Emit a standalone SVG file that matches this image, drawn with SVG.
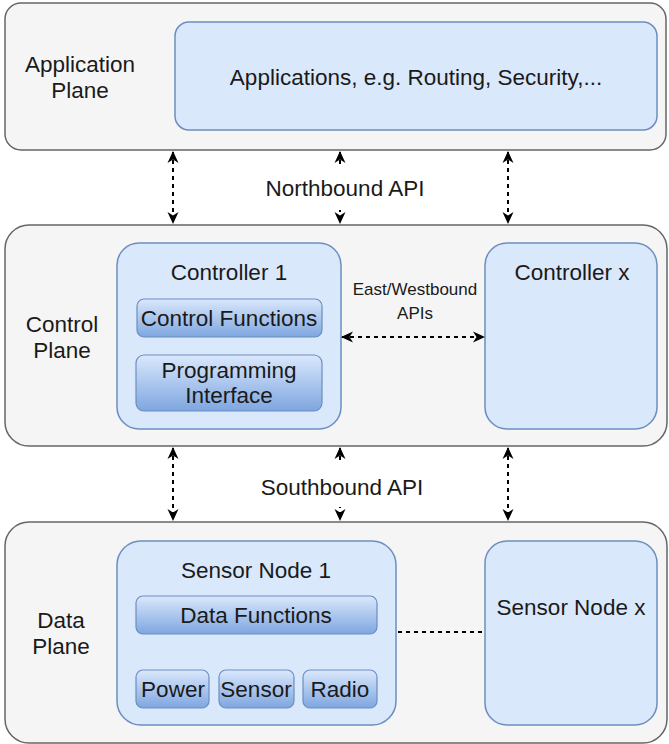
<svg xmlns="http://www.w3.org/2000/svg" width="669" height="744" viewBox="0 0 669 744">
  <style>
    .plane { fill: #f5f5f5; stroke: #666666; stroke-width: 1.5; }
    .box { fill: #dae8fc; stroke: #6c8ebf; stroke-width: 1.5; }
    .sub { fill: url(#subGrad); stroke: #6c8ebf; stroke-width: 1.2; }
    text { font-family: "Liberation Sans", Arial, sans-serif; font-size: 22.5px; fill: #1a1a1a; text-anchor: middle; }
    .small { font-size: 17px; }
    .link { fill: none; stroke: #000000; stroke-width: 2; stroke-dasharray: 4 4; }
    .label-bg { fill: #ffffff; }
  </style>
  <defs>
    <linearGradient id="subGrad" x1="0" y1="0" x2="0" y2="1">
      <stop offset="0" stop-color="#dae8fc"/>
      <stop offset="1" stop-color="#7ea6e0"/>
    </linearGradient>
    <marker id="head" viewBox="0 0 12 12" refX="11" refY="6" markerWidth="12" markerHeight="12" orient="auto-start-reverse" markerUnits="userSpaceOnUse">
      <path d="M0,0.5 L12,6 L0,11.5 L3.5,6 Z" fill="#000000"/>
    </marker>
  </defs>

  <!-- Application plane -->
  <g id="application-plane">
    <rect class="plane" x="5" y="3" width="661" height="147" rx="16"/>
    <text x="80" y="72">Application</text>
    <text x="80" y="98">Plane</text>
  </g>
  <g id="applications">
    <rect class="box" x="175" y="22" width="482" height="108" rx="14"/>
    <text x="416" y="85">Applications, e.g. Routing, Security,...</text>
  </g>

  <!-- Control plane -->
  <g id="control-plane">
    <rect class="plane" x="5" y="225" width="662" height="221" rx="24"/>
    <text x="62" y="332">Control</text>
    <text x="62" y="358">Plane</text>
  </g>
  <g id="controller-1">
    <rect class="box" x="117" y="243" width="224" height="186" rx="22"/>
    <text x="229" y="280">Controller 1</text>
  </g>
  <g id="control-functions">
    <rect class="sub" x="137" y="299" width="185" height="38" rx="7"/>
    <text x="229" y="326">Control Functions</text>
  </g>
  <g id="programming-interface">
    <rect class="sub" x="136" y="355" width="186" height="56" rx="8"/>
    <text x="229" y="378">Programming</text>
    <text x="229" y="403">Interface</text>
  </g>
  <g id="controller-x">
    <rect class="box" x="485" y="243" width="172" height="186" rx="22"/>
    <text x="572" y="280">Controller x</text>
  </g>

  <!-- Data plane -->
  <g id="data-plane">
    <rect class="plane" x="5" y="522" width="662" height="221" rx="24"/>
    <text x="61" y="628">Data</text>
    <text x="61" y="654">Plane</text>
  </g>
  <g id="sensor-node-1">
    <rect class="box" x="117" y="541" width="279" height="184" rx="24"/>
    <text x="256" y="578">Sensor Node 1</text>
  </g>
  <g id="data-functions">
    <rect class="sub" x="136" y="596" width="241" height="38" rx="7"/>
    <text x="256" y="623">Data Functions</text>
  </g>
  <g id="power">
    <rect class="sub" x="136" y="670" width="73" height="38" rx="7"/>
    <text x="173" y="697">Power</text>
  </g>
  <g id="sensor">
    <rect class="sub" x="219" y="670" width="75" height="38" rx="7"/>
    <text x="256" y="697">Sensor</text>
  </g>
  <g id="radio">
    <rect class="sub" x="303" y="670" width="74" height="38" rx="7"/>
    <text x="340" y="697">Radio</text>
  </g>
  <g id="sensor-node-x">
    <rect class="box" x="485" y="541" width="172" height="184" rx="22"/>
    <text x="571" y="615">Sensor Node x</text>
  </g>

  <!-- Connectors -->
  <g id="connectors">
    <line class="link" x1="173" y1="152" x2="173" y2="223" marker-start="url(#head)" marker-end="url(#head)"/>
    <line class="link" x1="340" y1="152" x2="340" y2="223" marker-start="url(#head)" marker-end="url(#head)"/>
    <line class="link" x1="508" y1="152" x2="508" y2="223" marker-start="url(#head)" marker-end="url(#head)"/>
    <rect class="label-bg" x="256" y="166" width="176" height="44"/>
    <text x="345" y="196">Northbound API</text>

    <line class="link" x1="342" y1="337" x2="484" y2="337" marker-start="url(#head)" marker-end="url(#head)"/>
    <text class="small" x="415" y="295">East/Westbound</text>
    <text class="small" x="415" y="319">APIs</text>

    <line class="link" x1="173" y1="448" x2="173" y2="520" marker-start="url(#head)" marker-end="url(#head)"/>
    <line class="link" x1="340" y1="448" x2="340" y2="520" marker-start="url(#head)" marker-end="url(#head)"/>
    <line class="link" x1="508" y1="448" x2="508" y2="520" marker-start="url(#head)" marker-end="url(#head)"/>
    <rect class="label-bg" x="253" y="462" width="178" height="45"/>
    <text x="342" y="495">Southbound API</text>

    <line class="link" x1="398" y1="632" x2="483" y2="632"/>
  </g>
</svg>
